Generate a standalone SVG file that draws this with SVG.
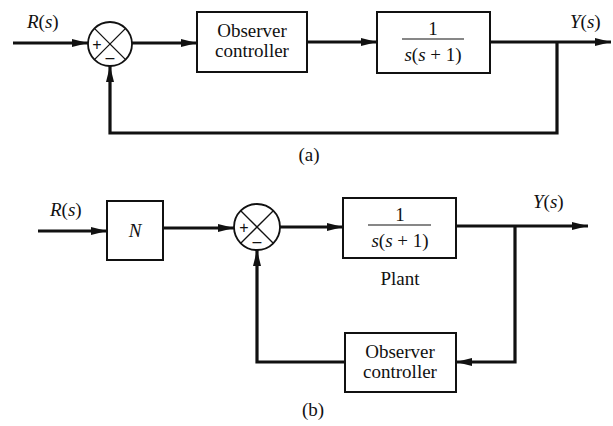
<svg xmlns="http://www.w3.org/2000/svg" width="613" height="426" viewBox="0 0 613 426">
<defs>
<style>
.box{fill:none;stroke:#111;stroke-width:2}
.sum{fill:#fff;stroke:#111;stroke-width:1.8}
.x{stroke:#111;stroke-width:1.3}
.w{fill:none;stroke:#111;stroke-width:3.2}
text{font-family:"Liberation Serif","Times New Roman",serif;font-size:19px;fill:#111}
.it{font-style:italic}
.up{font-style:normal}
.mid{text-anchor:middle}
.sg{font-family:"Liberation Sans",Arial,sans-serif;font-size:16px}
</style>
<marker id="ah" viewBox="0 0 16 8" refX="16" refY="4" markerWidth="16" markerHeight="8" markerUnits="userSpaceOnUse" orient="auto">
<path d="M0,0 L16,4 L0,8 z" fill="#111"/>
</marker>
</defs>
<rect width="613" height="426" fill="#fff"/>

<g id="connectors">
<line class="w" x1="13" y1="43" x2="88" y2="43" marker-end="url(#ah)"/>
<line class="w" x1="132" y1="43" x2="197" y2="43" marker-end="url(#ah)"/>
<line class="w" x1="307" y1="42" x2="377" y2="42" marker-end="url(#ah)"/>
<line class="w" x1="490" y1="42" x2="611" y2="42" marker-end="url(#ah)"/>
<polyline class="w" points="557,42 557,133 110,133 110,66" marker-end="url(#ah)"/>

<line class="w" x1="38" y1="231" x2="107" y2="231" marker-end="url(#ah)"/>
<line class="w" x1="163" y1="228" x2="234" y2="228" marker-end="url(#ah)"/>
<line class="w" x1="280" y1="227" x2="343" y2="227" marker-end="url(#ah)"/>
<line class="w" x1="456" y1="226" x2="588" y2="226" marker-end="url(#ah)"/>
<polyline class="w" points="515,226 515,362 456,362" marker-end="url(#ah)"/>
<polyline class="w" points="345,362 257,362 257,250" marker-end="url(#ah)"/>
</g>

<g id="sum-a">
<circle class="sum" cx="110" cy="44" r="22"/>
<line class="x" x1="94.4" y1="28.4" x2="125.6" y2="59.6"/>
<line class="x" x1="125.6" y1="28.4" x2="94.4" y2="59.6"/>
<text class="sg mid" x="97" y="50">+</text>
<text class="sg mid" x="110" y="63">–</text>
</g>

<g id="observer-a">
<rect class="box" x="197" y="12" width="110" height="60"/>
<text class="mid" x="252" y="37">Observer</text>
<text class="mid" x="252" y="57">controller</text>
</g>

<g id="plant-a">
<rect class="box" x="377" y="12" width="113" height="61"/>
<text class="mid" x="433" y="35">1</text>
<line x1="402" y1="39" x2="464" y2="39" stroke="#111" stroke-width="1.2"/>
<text class="mid" x="433" y="61"><tspan class="it">s</tspan>(<tspan class="it">s</tspan> + 1)</text>
</g>

<g id="labels-a">
<text x="27" y="28"><tspan class="it">R</tspan>(<tspan class="it">s</tspan>)</text>
<text x="570" y="28"><tspan class="it">Y</tspan>(<tspan class="it">s</tspan>)</text>
<text class="mid" x="309" y="161">(a)</text>
</g>

<g id="n-b">
<rect class="box" x="107" y="201" width="56" height="59"/>
<text class="it mid" x="135" y="237">N</text>
</g>

<g id="sum-b">
<circle class="sum" cx="257" cy="227" r="23"/>
<line class="x" x1="240.7" y1="210.7" x2="273.3" y2="243.3"/>
<line class="x" x1="273.3" y1="210.7" x2="240.7" y2="243.3"/>
<text class="sg mid" x="244" y="233">+</text>
<text class="sg mid" x="257" y="247">–</text>
</g>

<g id="plant-b">
<rect class="box" x="343" y="198" width="113" height="60"/>
<text class="mid" x="400" y="221">1</text>
<line x1="368" y1="225" x2="431" y2="225" stroke="#111" stroke-width="1.2"/>
<text class="mid" x="400" y="247"><tspan class="it">s</tspan>(<tspan class="it">s</tspan> + 1)</text>
<text class="mid" x="400" y="285">Plant</text>
</g>

<g id="observer-b">
<rect class="box" x="345" y="333" width="111" height="59"/>
<text class="mid" x="400" y="358">Observer</text>
<text class="mid" x="400" y="378">controller</text>
</g>

<g id="labels-b">
<text x="50" y="216"><tspan class="it">R</tspan>(<tspan class="it">s</tspan>)</text>
<text x="533" y="208"><tspan class="it">Y</tspan>(<tspan class="it">s</tspan>)</text>
<text class="mid" x="313" y="416">(b)</text>
</g>
</svg>
